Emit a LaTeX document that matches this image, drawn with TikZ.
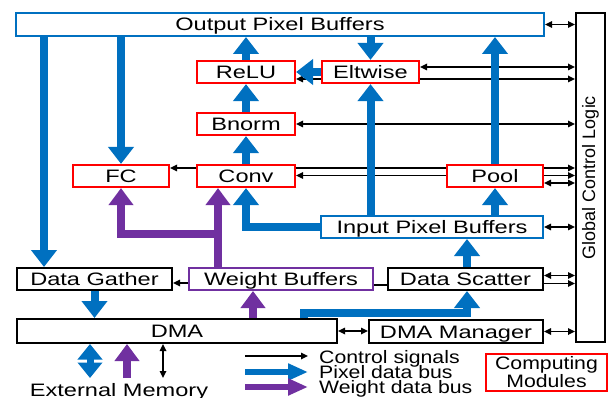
\documentclass[tikz,border=0pt]{standalone}
\usepackage{fontspec}
\setmainfont[FakeStretch=1.31]{Liberation Sans}
\newfontfamily\legendfont[FakeStretch=1.18]{Liberation Sans}
\newfontfamily\rotfont{Liberation Sans}
\usepackage{graphicx}
\usetikzlibrary{arrows.meta}
\definecolor{myblue}{RGB}{0,112,192}
\definecolor{mypurple}{RGB}{112,48,160}
\definecolor{myred}{RGB}{255,0,0}
\pgfdeclarelayer{bg}
\pgfsetlayers{bg,main}
\begin{document}
\begin{tikzpicture}[x=1pt,y=-1pt,
 box/.style={draw, line width=2pt, fill=white, inner sep=0pt, font=\fontsize{18}{20}\selectfont, text height=16pt, text depth=3pt},
 bluebox/.style={box, draw=myblue},
 redbox/.style={box, draw=myred, line width=2.2pt},
 purbox/.style={box, draw=mypurple},
 blkbox/.style={box, draw=black},
 gclbox/.style={draw, line width=2pt, fill=white, inner sep=0pt},
 legtext/.style={font=\legendfont\fontsize{18}{20}\selectfont, inner sep=0pt, text height=16pt, text depth=3pt, anchor=west},
 ctl/.style={line width=1.6pt, {Triangle[length=7pt,width=6.5pt]}-{Triangle[length=7pt,width=6.5pt]}},
 ctlr/.style={line width=1.6pt, -{Triangle[length=7pt,width=6.5pt]}},
 pix/.style={draw=myblue, line width=8pt, -{Triangle[length=17pt,width=25pt]}},
 pixd/.style={draw=myblue, line width=7pt, {Triangle[length=15.5pt,width=24pt]}-{Triangle[length=15.5pt,width=24pt]}},
 wgt/.style={draw=mypurple, line width=7.5pt, -{Triangle[length=17pt,width=24pt]}},
 legpix/.style={draw=myblue, line width=6pt, -{Triangle[length=20pt,width=16pt]}},
 legwgt/.style={draw=mypurple, line width=6pt, -{Triangle[length=20pt,width=16pt]}},
 ]
\useasboundingbox (0,0) rectangle (610,398);

% nodes
\node[bluebox, minimum width=528pt, minimum height=23pt] (OPB) at (280,24.5) {Output Pixel Buffers};
\node[gclbox, minimum width=29pt, minimum height=329pt] (GCL) at (590.5,177.5) {\rotatebox{90}{\rotfont\fontsize{18}{20}\selectfont Global Control Logic}};
\node[redbox, minimum width=98pt, minimum height=22pt] (ReLU) at (246,72) {ReLU};
\node[redbox, minimum width=97pt, minimum height=22pt] (Elt) at (370.5,72) {Eltwise};
\node[redbox, minimum width=98pt, minimum height=22pt] (Bn) at (246,124) {Bnorm};
\node[redbox, minimum width=96pt, minimum height=22pt] (FC) at (121,176) {FC};
\node[redbox, minimum width=98pt, minimum height=22pt] (Conv) at (246,176) {Conv};
\node[redbox, minimum width=96pt, minimum height=22pt] (Pool) at (495,176) {Pool};
\node[bluebox, minimum width=222pt, minimum height=22pt] (IPB) at (432,227) {Input Pixel Buffers};
\node[blkbox, minimum width=155pt, minimum height=22pt] (DG) at (94.5,279) {Data Gather};
\node[purbox, minimum width=184pt, minimum height=22pt] (WB) at (281,279) {Weight Buffers};
\node[blkbox, minimum width=155pt, minimum height=22pt] (DS) at (465.5,279) {Data Scatter};
\node[blkbox, minimum width=320pt, minimum height=24pt] (DMA) at (177,331) {DMA};
\node[blkbox, minimum width=174pt, minimum height=23pt] (DMAM) at (456,331.5) {DMA Manager};
\node[draw=myred, line width=2pt, minimum width=121pt, minimum height=37pt, inner sep=0pt, align=center, font=\legendfont\fontsize{18}{18}\selectfont] (CM) at (546.5,372.5) {Computing\\Modules};
\node[font=\fontsize{18}{20}\selectfont, text height=16pt, text depth=3pt, inner sep=0pt] (EM) at (119,390) {External Memory};

\node[legtext] (L1) at (319,356.5) {Control signals};
\node[legtext] (L2) at (319,371.5) {Pixel data bus};
\node[legtext] (L3) at (319,387) {Weight data bus};

\coordinate (em1) at (90,378);
\coordinate (em2) at (127,378);
\coordinate (em3) at (163,378);
\coordinate (la1) at (245,356);
\coordinate (lb1) at (308,356);
\coordinate (la2) at (245,372);
\coordinate (lb2) at (308,372);
\coordinate (la3) at (245,387);
\coordinate (lb3) at (308,387);

% control lines (behind boxes)
\begin{pgfonlayer}{bg}
\draw[ctl] (OPB.east) -- (OPB.east -| GCL.west);
\draw[ctl] (Elt.east |- 0,67) -- (GCL.west |- 0,67);
\draw[ctl] (ReLU.east |- 0,79) -- (GCL.west |- 0,79);
\draw[ctl] (Bn.east) -- (Bn.east -| GCL.west);
\draw[ctl] (FC.east |- 0,168) -- (GCL.west |- 0,168);
\draw[ctl] (Conv.east |- 0,175.5) -- (GCL.west |- 0,175.5);
\draw[ctl] (Pool.east |- 0,183) -- (GCL.west |- 0,183);
\draw[ctl] (IPB.east) -- (IPB.east -| GCL.west);
\draw[ctl] (DS.east |- 0,275.5) -- (GCL.west |- 0,275.5);
\draw[ctlr] (DS.east |- 0,283.5) -- (GCL.west |- 0,283.5);
\draw[ctl] (DMAM.east) -- (DMAM.east -| GCL.west);
\draw[ctl] (DMA.east) -- (DMA.east -| DMAM.west);
\draw[ctlr] (WB.west |- 0,283) -- (DG.east |- 0,283);
\draw[line width=1.6pt] (WB.east |- 0,285) -- (DS.west |- 0,285);
\end{pgfonlayer}

% pixel data bus
\draw[pix] (ReLU.north) -- (ReLU.north |- OPB.south);
\draw[pix] (Bn.north) -- (ReLU.south);
\draw[pix] (Conv.north) -- (Bn.south);
\draw[pix] (OPB.south -| Elt.north) -- (Elt.north);
\draw[pix] (IPB.north -| Elt.south) -- (Elt.south);
\draw[pix] (Elt.west) -- (ReLU.east);
\draw[pix] (Pool.north) -- (Pool.north |- OPB.south);
\draw[pix] (IPB.north -| Pool.south) -- (Pool.south);
\draw[pix] (OPB.south -| FC.north) -- (FC.north);
\draw[pix] (OPB.south -| 44,0) -- (DG.north -| 44,0);
\draw[pix] (IPB.west) -| (Conv.south);
\draw[pix] (DS.north -| 467,0) -- (IPB.south -| 467,0);
\draw[pix] (DMA.north -| 304,0) -- (304,313) -| (DS.south -| 467,0);
\draw[pix] (DG.south) -- (DG.south |- DMA.north);
\draw[pixd] (DMA.south -| em1) -- (em1);

% weight data bus
\draw[wgt] (WB.north -| 218,0) -- (Conv.south -| 218,0);
\draw[wgt] (WB.north -| 218,0) -- (218,234) -| (FC.south);
\draw[wgt] (DMA.north -| 253,0) -- (WB.south -| 253,0);
\draw[wgt] (em2) -- (DMA.south -| em2);
\draw[ctl] (DMA.south -| em3) -- (em3);

% legend
\draw[ctlr] (la1) -- (lb1);
\draw[legpix] (la2) -- (lb2);
\draw[legwgt] (la3) -- (lb3);
\end{tikzpicture}
\end{document}
